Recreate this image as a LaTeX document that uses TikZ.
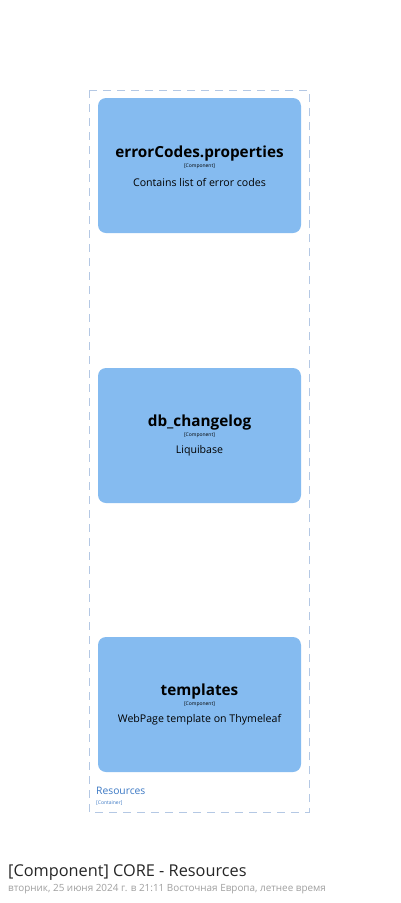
\documentclass[tikz,border=0pt]{standalone}
\usepackage{fontspec}
\setmainfont{Open Sans}
\begin{document}
\begin{tikzpicture}[x=1pt,y=-1pt,
  comp/.style={fill=boxblue,rounded corners=8pt,draw=none},
  ttl/.style={font=\fontsize{15.3}{17}\selectfont\bfseries,text=black,inner sep=0pt},
  typ/.style={font=\fontsize{5}{6}\selectfont,text=black,inner sep=0pt},
  dsc/.style={font=\fontsize{10.6}{12}\selectfont,text=black,inner sep=0pt}]
\definecolor{boxblue}{HTML}{85BBF0}
\definecolor{bordc}{HTML}{B4C8E4}
\definecolor{lblc}{HTML}{3B78C4}
\definecolor{datec}{HTML}{A0A0A0}
\useasboundingbox (0,0) rectangle (400,903);
\fill[white] (0,0) rectangle (400,903);
\draw[bordc,dash pattern=on 8pt off 6pt,line width=0.8pt] (89,90) rectangle (309,812);
\node[comp,minimum width=203pt,minimum height=135pt] (b1) at (199.5,165.5) {};
\node[comp,minimum width=203pt,minimum height=135pt] (b2) at (199.5,435.5) {};
\node[comp,minimum width=203pt,minimum height=135pt] (b3) at (199.5,704.5) {};
\node[ttl] (t1) at ([yshift=12pt]b1.center) {errorCodes.properties};
\node[typ] (c1) at ([yshift=-1pt]b1.center) {[Component]};
\node[dsc] (d1) at ([yshift=-17pt]b1.center) {Contains list of error codes};
\node[ttl] (t2) at ([yshift=13pt]b2.center) {db\_changelog};
\node[typ] (c2) at ([yshift=0pt]b2.center) {[Component]};
\node[dsc] (d2) at ([yshift=-15pt]b2.center) {Liquibase};
\node[ttl] (t3) at ([yshift=13pt]b3.center) {templates};
\node[typ] (c3) at ([yshift=0pt]b3.center) {[Component]};
\node[dsc] (d3) at ([yshift=-15pt]b3.center) {WebPage template on Thymeleaf};
\node[anchor=west,inner sep=0pt,text=lblc,font=\fontsize{10.3}{12}\selectfont] (rl) at (96,791) {Resources};
\node[anchor=west,inner sep=0pt,text=lblc,font=\fontsize{5}{6}\selectfont] (rc) at (96,803) {[Container]};
\node[anchor=west,inner sep=0pt,text=black!85,font=\fontsize{16.3}{18}\selectfont] (title) at (8,873) {[Component] CORE - Resources};
\node[anchor=west,inner sep=0pt,text=datec,font=\fontsize{9.9}{11}\selectfont] (date) at (8,889) {вторник, 25 июня 2024 г. в 21:11 Восточная Европа, летнее время};
\end{tikzpicture}
\end{document}
